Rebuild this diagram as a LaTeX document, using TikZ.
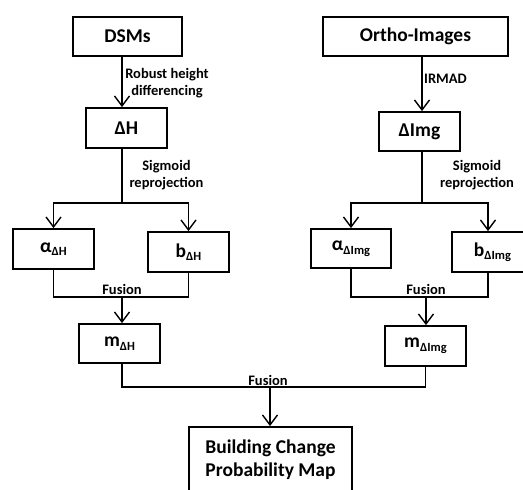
\documentclass[tikz,border=0pt]{standalone}
\usepackage{fontspec}
\setmainfont{Carlito}
\usetikzlibrary{arrows.meta}
\newcommand\sbs[1]{\raisebox{-3.5pt}{\fontsize{12.5}{14}\selectfont #1}}
\begin{document}
\begin{tikzpicture}[x=1pt,y=-1pt,
  box/.style={draw, line width=1.8pt, inner sep=0pt, font=\bfseries\fontsize{19.5}{23}\selectfont, align=center},
  lbl/.style={font=\bfseries\fontsize{14.5}{17.5}\selectfont, align=center, inner sep=0pt},
  con/.style={line width=1.4pt},
  arr/.style={con, -{Straight Barb[length=10pt,width=15pt]}}]
\useasboundingbox (0,0) rectangle (523,490);
\clip (0,0) rectangle (523,490);
% boxes
\node[box, minimum width=109, minimum height=39] (dsm) at (127.5,36.5) {DSMs};
\node[box, minimum width=81, minimum height=40] (dh) at (126.5,128) {ΔH};
\node[box, minimum width=81, minimum height=40] (adh) at (53.5,249) {α\sbs{ΔH}};
\node[box, minimum width=81, minimum height=40] (bdh) at (188.5,252) {b\sbs{ΔH}};
\node[box, minimum width=81, minimum height=39] (mdh) at (119.5,343.5) {m\sbs{ΔH}};
\node[box, minimum width=185, minimum height=39] (ortho) at (415.5,36.5) {Ortho-Images};
\node[box, minimum width=81, minimum height=39] (di) at (419.5,131.5) {ΔImg};
\node[box, minimum width=80, minimum height=39] (adi) at (351,248.5) {α\sbs{ΔImg}};
\node[box, minimum width=81, minimum height=40] (bdi) at (492.5,252) {b\sbs{ΔImg}};
\node[box, minimum width=81, minimum height=40] (mdi) at (425.5,346) {m\sbs{ΔImg}};
\node[box, minimum width=163, minimum height=65] (final) at (270.5,459.5) {Building Change\\Probability Map};
% helper coordinates
\coordinate (xL) at (122,0);
\coordinate (xR) at (422,0);
\coordinate (xB) at (488,0);
\coordinate (jL) at (122,203);
\coordinate (jR) at (422,203);
\coordinate (fL) at (122,297);
\coordinate (fR) at (426,297);
\coordinate (fB) at (270,387);
% left branch
\draw[arr] (dsm.south -| xL) -- (dh.north -| xL);
\draw[con] (dh.south -| jL) -- (jL);
\draw[arr] (jL) -| (adh.north);
\draw[arr] (jL) -| (bdh.north);
\draw[con] (adh.south) |- (fL) -| (bdh.south);
\draw[arr] (fL) -- (mdh.north -| fL);
% right branch
\draw[arr] (ortho.south -| xR) -- (di.north -| xR);
\draw[con] (di.south -| jR) -- (jR);
\draw[arr] (jR) -| (adi.north);
\draw[arr] (jR) -| (bdi.north -| xB);
\draw[con] (adi.south) |- (fR) -| (bdi.south -| xB);
\draw[arr] (fR) -- (mdi.north -| fR);
% final fusion
\draw[con] (mdh.south -| xL) |- (fB) -| (mdi.south);
\draw[arr] (fB) -- (final.north -| fB);
% labels
\node[lbl] (l1) at (167,83) {Robust height\\differencing};
\node[lbl, anchor=west] (l2) at (424,79) {IRMAD};
\node[lbl] (l3) at (166.5,175) {Sigmoid\\reprojection};
\node[lbl] (l4) at (477,175) {Sigmoid\\reprojection};
\node[lbl, above=2.5pt] (l5) at (fL) {Fusion};
\node[lbl, above=2.5pt] (l6) at (fR) {Fusion};
\node[lbl, above=0.8pt] (l7) at (268,387) {Fusion};
\end{tikzpicture}
\end{document}
